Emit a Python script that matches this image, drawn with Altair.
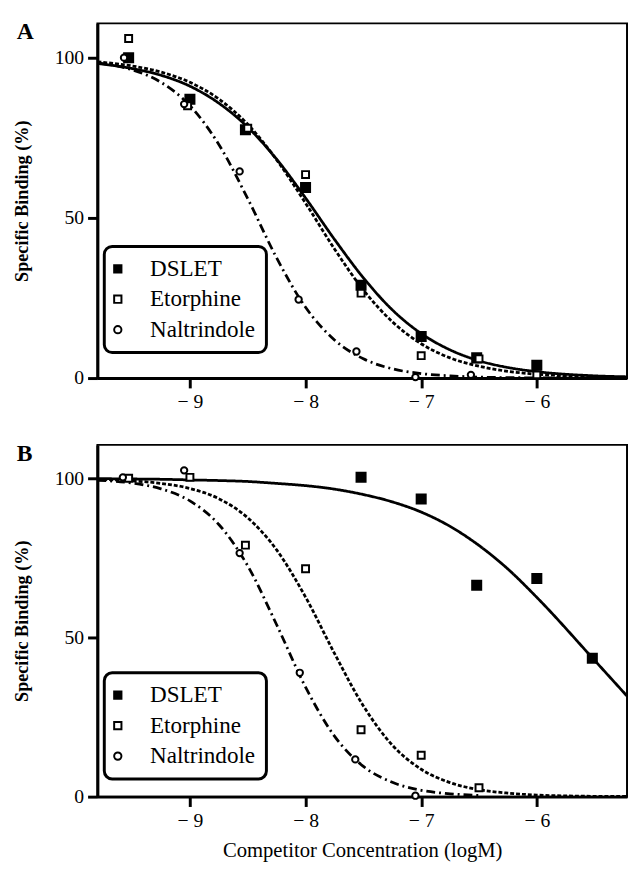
import altair as alt
import pandas as pd

SERIES = ["DSLET", "Etorphine", "Naltrindole"]
PANELS = ["A", "B"]
X_TICKS = [-9, -8, -7, -6]
Y_TICKS = [0, 50, 100]

# ---- Panel A measured points ----
A_DSLET_X = [-9.53, -9.0, -8.52, -8.0, -7.52, -7.0, -6.52, -6.0]
A_DSLET_Y = [100, 87, 77.5, 59.5, 29, 13, 6.3, 4]
A_ETOR_X = [-9.53, -9.02, -8.5, -8.0, -7.52, -7.0, -6.5, -6.0]
A_ETOR_Y = [106, 85, 78, 63.5, 26.5, 7, 6, 1]
A_NALT_X = [-9.57, -9.05, -8.57, -8.06, -7.56, -7.05, -6.57]
A_NALT_Y = [100, 85.5, 64.5, 24.5, 8.3, 0.3, 1]

# ---- Panel B measured points ----
B_DSLET_X = [-7.52, -7.0, -6.52, -6.0, -5.52]
B_DSLET_Y = [100.3, 93.5, 66.4, 68.5, 43.5]
B_ETOR_X = [-9.53, -9.0, -8.52, -8.0, -7.52, -7.0, -6.5]
B_ETOR_Y = [100, 100.3, 79, 71.6, 21, 13, 2.8]
B_NALT_X = [-9.58, -9.05, -8.57, -8.05, -7.57, -7.05]
B_NALT_Y = [100.3, 102.5, 76.5, 38.9, 11.7, 0.3]

# ---- fitted curves ----
CX = [-9.8, -9.5, -9.25, -9.0, -8.75, -8.5, -8.25, -8.0, -7.75, -7.5,
      -7.25, -7.0, -6.75, -6.5, -6.25, -6.0, -5.5, -5.22]
A_DSLET_C = [98.2, 96.6, 94.5, 91.1, 85.8, 78.3, 68.3, 56.2, 43.3, 31.3,
             21.3, 13.9, 8.8, 5.4, 3.3, 2.0, 0.7, 0.4]
A_ETOR_C = [98.7, 97.4, 95.5, 92.3, 87.1, 79.2, 68.1, 54.6, 40.3, 27.5,
            17.6, 10.7, 6.3, 3.7, 2.1, 1.2, 0.4, 0.2]
A_NALT_C = [98.4, 96.2, 92.3, 85.0, 72.9, 56.0, 37.5, 22.1, 11.9, 6.0,
            2.9, 1.4, 0.7, 0.3, 0.15, 0.07, 0.0, 0.0]
B_DSLET_C = [99.9, 99.8, 99.7, 99.5, 99.3, 99.0, 98.4, 97.7, 96.6, 94.9,
             92.6, 89.4, 84.9, 78.9, 71.5, 62.6, 42.8, 31.6]
B_ETOR_C = [99.7, 99.2, 98.4, 96.8, 93.6, 87.6, 77.5, 62.7, 45.0, 28.5,
            16.2, 8.6, 4.4, 2.2, 1.1, 0.5, 0.1, 0.05]
B_NALT_CX = CX[:14]
B_NALT_C = [99.4, 98.5, 96.7, 92.9, 85.5, 72.5, 54.0, 34.4, 19.0, 9.5,
            4.5, 2.0, 0.9, 0.4]

FONT = "Liberation Serif"


def frame(pairs):
    rows = []
    for name, xs, ys in pairs:
        for x, y in zip(xs, ys):
            rows.append({"series": name, "logM": x, "binding": y})
    return pd.DataFrame(rows)


pts_A = frame([("DSLET", A_DSLET_X, A_DSLET_Y), ("Etorphine", A_ETOR_X, A_ETOR_Y),
               ("Naltrindole", A_NALT_X, A_NALT_Y)])
pts_B = frame([("DSLET", B_DSLET_X, B_DSLET_Y), ("Etorphine", B_ETOR_X, B_ETOR_Y),
               ("Naltrindole", B_NALT_X, B_NALT_Y)])
cur_A = frame([("DSLET", CX, A_DSLET_C), ("Etorphine", CX, A_ETOR_C),
               ("Naltrindole", CX, A_NALT_C)])
cur_B = frame([("DSLET", CX, B_DSLET_C), ("Etorphine", CX, B_ETOR_C),
               ("Naltrindole", B_NALT_CX, B_NALT_C)])


def panel(pts, cur, letter, ytop, height, xtitle, legend_y):
    xenc = alt.X("logM:Q",
                 scale=alt.Scale(domain=[-9.8, -5.22], nice=False, zero=False),
                 axis=alt.Axis(values=X_TICKS,
                               labelExpr="'\u2212 ' + format(abs(datum.value), 'd')",
                               title=xtitle, titleFontWeight="normal",
                               titleFontSize=21, titlePadding=10))
    yenc = alt.Y("binding:Q",
                 scale=alt.Scale(domain=[0, ytop], nice=False),
                 axis=alt.Axis(values=Y_TICKS, title="Specific Binding (%)",
                               titleFontWeight="bold", titleFontSize=18.5,
                               titlePadding=23))
    leg = alt.Legend(title=None, orient="none", legendX=7, legendY=legend_y)
    lines = alt.Chart(cur).mark_line(clip=True, color="black", strokeWidth=2.8,
                                     interpolate="monotone").encode(
        x=xenc, y=yenc,
        strokeDash=alt.StrokeDash("series:N",
                                  scale=alt.Scale(domain=SERIES,
                                                  range=[[1, 0], [4, 2], [9, 4, 2, 4]]),
                                  legend=None),
        detail="series:N")
    points = alt.Chart(pts).mark_point(strokeWidth=2, opacity=1,
                                       fillOpacity=1).encode(
        x=xenc, y=yenc,
        shape=alt.Shape("series:N",
                        scale=alt.Scale(domain=SERIES, range=["square", "square", "circle"]),
                        legend=leg),
        fill=alt.Fill("series:N",
                      scale=alt.Scale(domain=SERIES, range=["black", "white", "white"]),
                      legend=leg),
        stroke=alt.Stroke("series:N",
                          scale=alt.Scale(domain=SERIES, range=["black", "black", "black"]),
                          legend=leg),
        size=alt.when(alt.datum.series == "DSLET").then(alt.value(85))
        .when(alt.datum.series == "Naltrindole").then(alt.value(42))
        .otherwise(alt.value(50)))
    lab = alt.Chart(pd.DataFrame({"t": [letter]})).mark_text(
        font=FONT, fontSize=24, fontWeight="bold", align="left",
        baseline="alphabetic", color="black").encode(
        text="t:N", x=alt.value(-82), y=alt.value(16))
    return alt.layer(lines, points, lab).properties(width=539, height=height)


pA = panel(pts_A, cur_A, PANELS[0], 110.7, 361, None, 227)
pB = panel(pts_B, cur_B, PANELS[1], 110.5, 358, "Competitor Concentration (logM)", 232)

chart = alt.vconcat(pA, pB, spacing=29).resolve_scale(
    shape="independent", fill="independent", stroke="independent").resolve_legend(
    shape="independent", fill="independent", stroke="independent").properties(
    padding={"top": 4, "left": 4, "right": 0, "bottom": 0}
).configure_view(stroke="black", strokeWidth=2).configure_axis(
    grid=False, domainColor="black", domainWidth=3, tickColor="black",
    tickWidth=3, tickSize=10, labelFont=FONT, labelFontSize=20,
    labelColor="black", labelPadding=4, titleFont=FONT, titleColor="black"
).configure_legend(
    labelFont=FONT, labelFontSize=23.5, labelColor="black", padding=11,
    cornerRadius=8, strokeColor="black", strokeWidth=3, rowPadding=6,
    symbolSize=55, symbolStrokeWidth=2, labelOffset=21, symbolOffset=-9
)

chart.save("out.html", embed_options={"renderer": "svg", "actions": False})
